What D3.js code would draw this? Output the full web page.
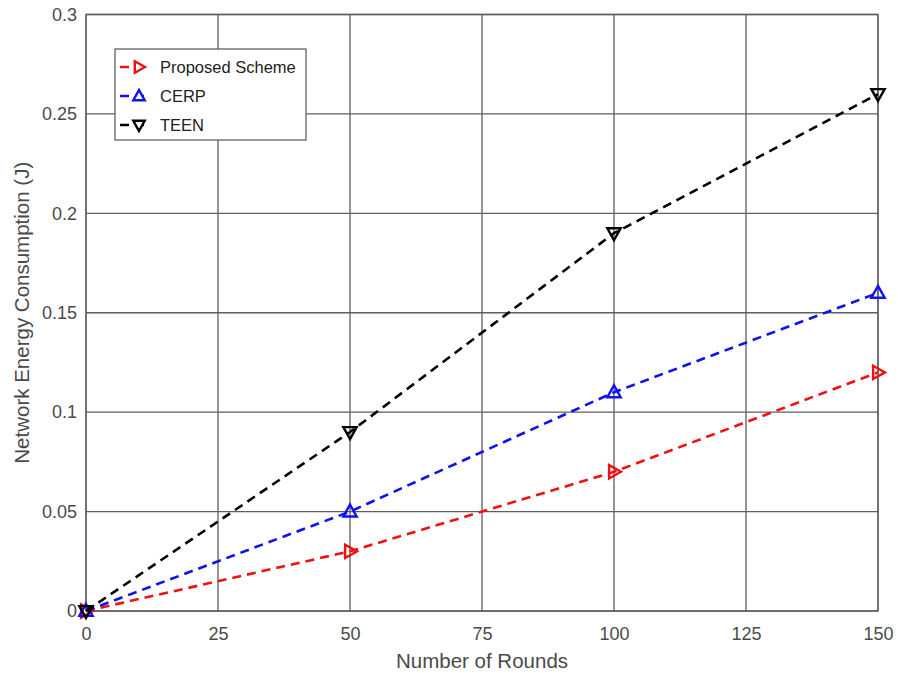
<!DOCTYPE html>
<html>
<head>
<style>
  body { margin: 0; background: #fff; }
  svg { font-family: Arial, "Liberation Sans", sans-serif; }
</style>
</head>
<body>
<script src="https://d3js.org/d3.v7.min.js"></script>
<script>
  const rounds = [0, 50, 100, 150]
  const proposed = [0, 0.03, 0.07, 0.12]
  const cerp = [0, 0.05, 0.11, 0.16]
  const teen = [0, 0.09, 0.19, 0.26]
  const xTicks = [0, 25, 50, 75, 100, 125, 150]
  const yTicks = [0, 0.05, 0.1, 0.15, 0.2, 0.25, 0.3]

  const series = [
    { name: "Proposed Scheme", values: proposed, color: "#f01010", marker: "right" },
    { name: "CERP", values: cerp, color: "#1010f0", marker: "up" },
    { name: "TEEN", values: teen, color: "#000000", marker: "down" }
  ]

  const width = 898, height = 673
  const m = { left: 86, top: 14.5, right: 20, bottom: 62 }

  const svg = d3.select("body").append("svg").attr("width", width).attr("height", height)

  const x = d3.scaleLinear().domain([0, 150]).range([m.left, width - m.right])
  const y = d3.scaleLinear().domain([0, 0.3]).range([height - m.bottom, m.top])

  // grid
  const grid = svg.append("g")
  grid.selectAll(".vx").data(xTicks).enter().append("line")
    .attr("x1", d => x(d)).attr("x2", d => x(d))
    .attr("y1", y(0)).attr("y2", y(0.3))
    .attr("stroke", "#5e5e5e").attr("stroke-width", 1.3)
  grid.selectAll(".hy").data(yTicks).enter().append("line")
    .attr("x1", x(0)).attr("x2", x(150))
    .attr("y1", d => y(d)).attr("y2", d => y(d))
    .attr("stroke", "#5e5e5e").attr("stroke-width", 1.3)

  svg.append("rect")
    .attr("x", x(0)).attr("y", y(0.3))
    .attr("width", x(150) - x(0)).attr("height", y(0) - y(0.3))
    .attr("fill", "none").attr("stroke", "#5e5e5e").attr("stroke-width", 1.3)

  // tick labels
  svg.append("g").attr("transform", "translate(0," + y(0) + ")")
    .call(d3.axisBottom(x).tickValues(xTicks).tickSize(0).tickPadding(16))
    .call(g => g.select(".domain").remove())
    .selectAll("text").attr("font-size", 18).attr("fill", "#4a4a4a").attr("font-family", "Arial, sans-serif")

  svg.append("g").attr("transform", "translate(" + x(0) + ",0)")
    .call(d3.axisLeft(y).tickValues(yTicks).tickFormat(d => d3.format("")(+d.toFixed(2))).tickSize(0).tickPadding(9))
    .call(g => g.select(".domain").remove())
    .selectAll("text").attr("font-size", 18).attr("fill", "#4a4a4a").attr("font-family", "Arial, sans-serif")

  svg.append("text")
    .attr("x", (x(0) + x(150)) / 2).attr("y", 668)
    .attr("text-anchor", "middle").attr("font-size", 20.5).attr("fill", "#4a4a4a")
    .text("Number of Rounds")

  svg.append("text")
    .attr("transform", "translate(29," + ((y(0) + y(0.3)) / 2) + ") rotate(-90)")
    .attr("text-anchor", "middle").attr("font-size", 20.5).attr("fill", "#4a4a4a")
    .text("Network Energy Consumption (J)")

  const triPath = (kind, s) => {
    if (kind === "up") return `M0,${-s}L${s * 0.95},${s * 0.7}L${-s * 0.95},${s * 0.7}Z`
    if (kind === "down") return `M0,${s}L${s * 0.95},${-s * 0.7}L${-s * 0.95},${-s * 0.7}Z`
    return `M${s},0L${-s * 0.7},${s * 0.95}L${-s * 0.7},${-s * 0.95}Z`
  }

  const line = d3.line().x((d, i) => x(rounds[i])).y(d => y(d))

  series.forEach(s => {
    svg.append("path").datum(s.values)
      .attr("d", line).attr("fill", "none")
      .attr("stroke", s.color).attr("stroke-width", 2.6)
      .attr("stroke-dasharray", "9,6")
    svg.selectAll(null).data(s.values).enter().append("path")
      .attr("transform", (d, i) => "translate(" + x(rounds[i]) + "," + y(d) + ")")
      .attr("d", triPath(s.marker, 7))
      .attr("fill", "none").attr("stroke", s.color).attr("stroke-width", 2.4)
  })

  // legend
  const lg = svg.append("g").attr("transform", "translate(115,49)")
  lg.append("rect").attr("width", 191).attr("height", 91)
    .attr("fill", "#fff").attr("stroke", "#555").attr("stroke-width", 1.2)
  series.forEach((s, i) => {
    const yy = 18 + i * 29
    lg.append("line").attr("x1", 5).attr("x2", 35).attr("y1", yy).attr("y2", yy)
      .attr("stroke", s.color).attr("stroke-width", 2.6).attr("stroke-dasharray", "9,6")
    lg.append("path").attr("transform", "translate(24," + yy + ")")
      .attr("d", triPath(s.marker, 6))
      .attr("fill", "#fff").attr("stroke", s.color).attr("stroke-width", 2.4)
    lg.append("text").attr("x", 45).attr("y", yy + 6)
      .attr("font-size", 16.5).attr("fill", "#222").text(s.name)
  })
</script>
</body>
</html>
